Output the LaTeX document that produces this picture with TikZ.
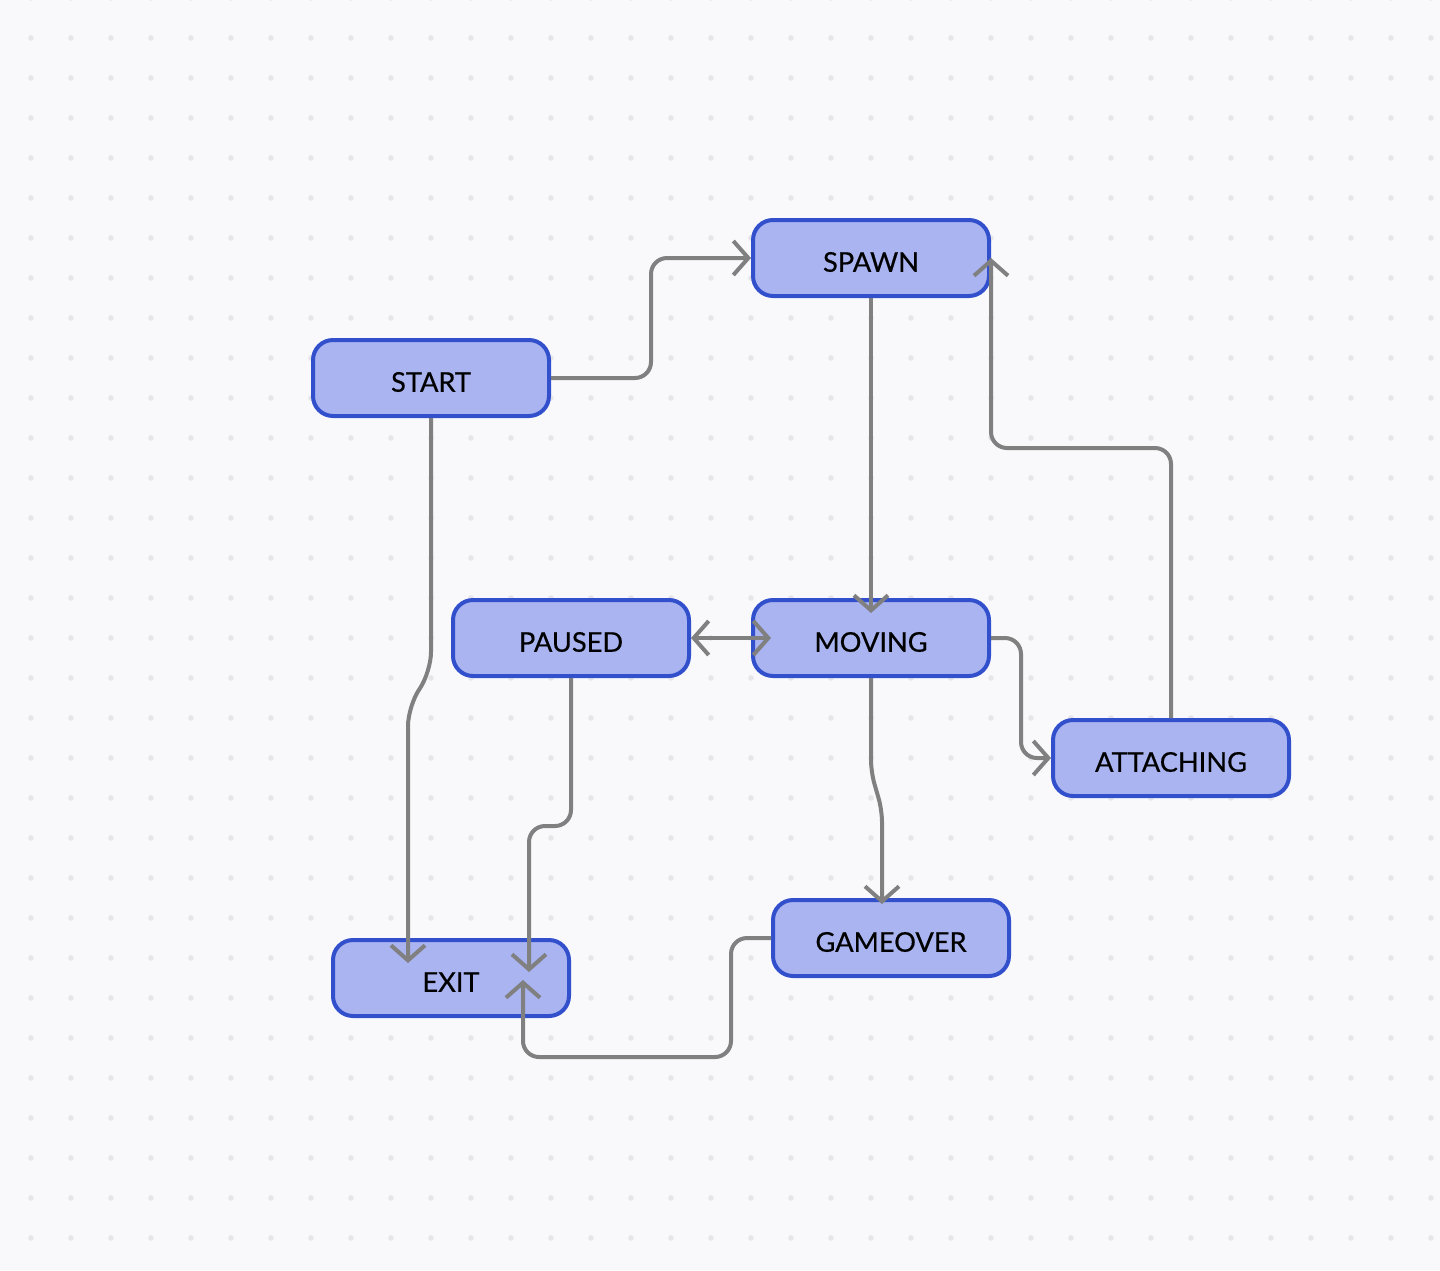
\documentclass[tikz,border=0pt]{standalone}
\usepackage{fontspec}
\setmainfont{Lato}
\usetikzlibrary{arrows.meta,calc}
\definecolor{bgc}{HTML}{F9F9FC}
\definecolor{dotc}{HTML}{E6E6EA}
\definecolor{boxfill}{HTML}{A9B4F0}
\definecolor{boxline}{HTML}{3350CC}
\definecolor{linec}{HTML}{808080}
\newcommand{\lbl}[1]{\raisebox{-2pt}[\height][\depth]{#1}}
\tikzset{
  tipV/.tip={Straight Barb[length=7.5pt,width=17pt]},
  state/.style={draw=boxline, fill=boxfill, line width=2pt, rounded corners=10pt,
    minimum width=118pt, minimum height=38pt, inner sep=0pt,
    font=\fontsize{13.6pt}{16pt}\selectfont\addfontfeature{FakeBold=0.5}, text=black},
  conn/.style={draw=linec, line width=2pt, rounded corners=8pt, -tipV},
  conn2/.style={draw=linec, line width=2pt, tipV-tipV},
}
\begin{document}
\begin{tikzpicture}[x=0.5pt,y=-0.5pt]
\useasboundingbox (0,0) rectangle (1440,1270);
\fill[bgc] (0,0) rectangle (1440,1270);
\begin{scope}
\clip (0,0) rectangle (1440,1270);
\foreach \x in {31,71,...,1431}{
  \foreach \y in {-2,38,...,1278}{
    \fill[dotc] (\x,\y) circle[radius=2.8];
  }
}
\end{scope}

\node[state] (start) at (431,378) {\lbl{START}};
\node[state] (spawn) at (871,258) {\lbl{SPAWN}};
\node[state] (paused) at (571,638) {\lbl{PAUSED}};
\node[state] (moving) at (871,638) {\lbl{MOVING}};
\node[state] (attaching) at (1171,758) {\lbl{ATTACHING}};
\node[state] (gameover) at (891,938) {\lbl{GAMEOVER}};
\node[state] (exit) at (451,978) {\lbl{EXIT}};

% START -> SPAWN
\draw[conn] (start.east) -- ++(100,0) |- (spawn.west);
% SPAWN -> MOVING
\coordinate (movin) at ($(moving.north)+(0,15)$);
\draw[conn] (spawn.south) -- (movin);
% PAUSED <-> MOVING
\coordinate (movw) at ($(moving.west)+(20,0)$);
\draw[conn2] (paused.east) -- (movw);
% MOVING -> ATTACHING
\draw[conn] (moving.east) -- ++(30,0) |- (attaching.west);
% ATTACHING -> SPAWN
\coordinate (attup) at ($(spawn.east)+(0,190)$);
\draw[conn] (attaching.north) |- (attup) -- (spawn.east);
% MOVING -> GAMEOVER
\coordinate (mg1) at ($(moving.south)+(0,94)$);
\coordinate (mg2) at ($(gameover.north)+(-9,-88)$);
\coordinate (mg3) at ($(gameover.north)+(-9,6)$);
\draw[conn,rounded corners=6pt] (moving.south) -- (mg1) -- (mg2) -- (mg3);
% START -> EXIT
\coordinate (se1) at ($(start.south)+(0,254)$);
\coordinate (se2) at ($(exit.north)+(-43,-232)$);
\coordinate (se3) at ($(exit.north)+(-43,25)$);
\draw[conn,rounded corners=10pt] (start.south) -- (se1) -- (se2) -- (se3);
% PAUSED -> EXIT
\coordinate (pe1) at ($(paused.south)+(0,148)$);
\coordinate (pe2) at ($(exit.north)+(78,34)$);
\draw[conn] (paused.south) -- (pe1) -| (pe2);
% GAMEOVER -> EXIT
\coordinate (ge1) at ($(exit.center)+(72,79)$);
\coordinate (ge2) at ($(exit.center)+(72,2)$);
\draw[conn] (gameover.west) -- ++(-40,0) |- (ge1) -- (ge2);
\end{tikzpicture}
\end{document}
